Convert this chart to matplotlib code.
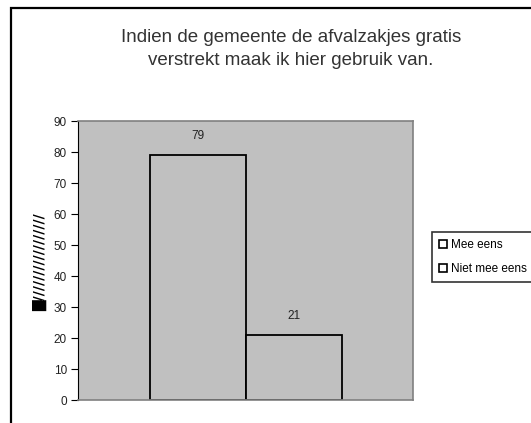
import matplotlib
matplotlib.use("Agg")
import matplotlib.pyplot as plt
from matplotlib.patches import Rectangle

# data
series = ["Mee eens", "Niet mee eens"]
values = [79, 21]
yticks = list(range(0, 91, 10))
title = "Indien de gemeente de afvalzakjes gratis\nverstrekt maak ik hier gebruik van."

W, H = 531, 423
fig = plt.figure(figsize=(W / 100, H / 100), dpi=100)
plt.rcParams['font.family'] = ['Liberation Sans', 'DejaVu Sans']

# outer chart frame (only top and left visible)
fig.patches.append(Rectangle((11 / W, -0.1), 1.2, (H - 8) / H + 0.1,
                             transform=fig.transFigure, fill=False,
                             edgecolor='black', linewidth=1.6))

ax = fig.add_axes([78 / W, (H - 400) / H, (413 - 78) / W, (400 - 121) / H])
ax.set_facecolor('#c0c0c0')

bw = 96 / 335
xs = [-bw / 2, bw / 2]
for x, v, name in zip(xs, values, series):
    ax.bar(x, v, width=bw, color='#c0c0c0', edgecolor='black',
           linewidth=1.3, label=name)
    ax.text(x, v + 4.2, str(v), ha='center', va='bottom', fontsize=8.5,
            color='#222222')

ax.set_xlim(-0.5, 0.5)
ax.set_ylim(0, 90)
ax.set_yticks(yticks)
ax.set_xticks([])
ax.tick_params(axis='y', labelsize=8.5, length=5, width=0.8, pad=3,
               labelcolor='#222222')
for s in ['top', 'right', 'bottom']:
    ax.spines[s].set_color('#808080')
    ax.spines[s].set_linewidth(1.2)
ax.spines['left'].set_color('black')
ax.spines['left'].set_linewidth(0.8)

fig.text(291 / W, 1 - 49 / H, title, ha='center', va='center',
         fontsize=13.5, color='#333333', linespacing=1.5)

# garbled axis title
fig.text(40 / W, 1 - 262 / H, "\u2588" + "/" * 17, rotation=90,
         ha='center', va='center', fontsize=10, fontweight='bold',
         family=['DejaVu Sans'])

handles = [Rectangle((0, 0), 1, 1, facecolor='white', edgecolor='black',
                     linewidth=1.2) for _ in series]
leg = fig.legend(handles, series, loc='upper left',
                 bbox_to_anchor=(432 / W, 1 - 232 / H), fontsize=8.5,
                 frameon=True, fancybox=False, handlelength=0.7,
                 handleheight=0.7, handletextpad=0.35, borderpad=0.6,
                 labelspacing=1.0, borderaxespad=0)
leg.get_frame().set_edgecolor('black')
leg.get_frame().set_linewidth(1.2)

fig.savefig("out.png", dpi=100)
